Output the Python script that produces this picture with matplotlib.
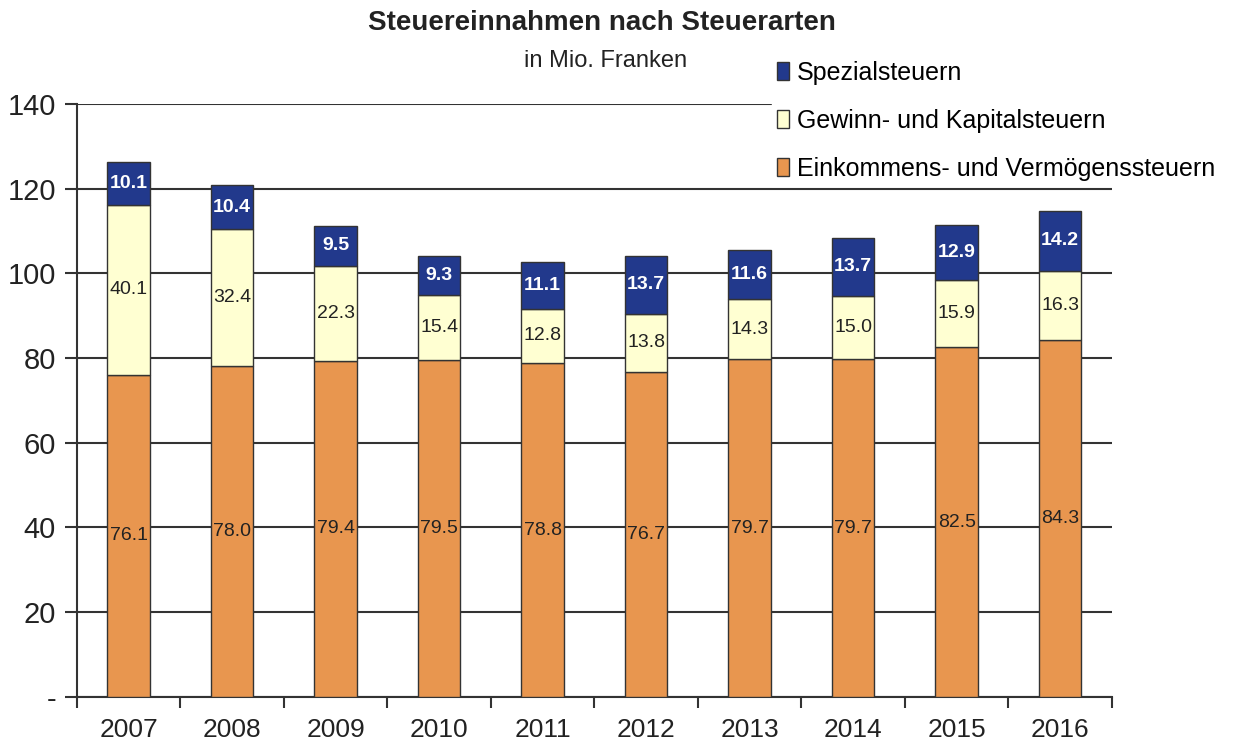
import numpy as np
import matplotlib.pyplot as plt
from matplotlib.patches import Patch

plt.rcParams['font.family'] = ['Liberation Sans Narrow', 'Liberation Sans', 'DejaVu Sans']

years = ['2007', '2008', '2009', '2010', '2011', '2012', '2013', '2014', '2015', '2016']
einkommen = [76.1, 78.0, 79.4, 79.5, 78.8, 76.7, 79.7, 79.7, 82.5, 84.3]
gewinn = [40.1, 32.4, 22.3, 15.4, 12.8, 13.8, 14.3, 15.0, 15.9, 16.3]
spezial = [10.1, 10.4, 9.5, 9.3, 11.1, 13.7, 11.6, 13.7, 12.9, 14.2]

c_eink = '#E8964F'
c_gew = '#FFFFD2'
c_spez = '#22398C'
c_line = '#333333'

fig = plt.figure(figsize=(12.41, 7.47), dpi=100)
ax = fig.add_axes([0.062, 0.067, 0.834, 0.794])

x = np.arange(len(years))
w = 0.41
e = np.array(einkommen)
g = np.array(gewinn)
s = np.array(spezial)

ax.set_axisbelow(True)
ax.yaxis.grid(True, color=c_line, linewidth=1.5)
ax.bar(x, e, w, color=c_eink, edgecolor=c_line, linewidth=1.0, zorder=3)
ax.bar(x, g, w, bottom=e, color=c_gew, edgecolor=c_line, linewidth=1.0, zorder=3)
ax.bar(x, s, w, bottom=e + g, color=c_spez, edgecolor=c_line, linewidth=1.0, zorder=3)

for i in range(len(years)):
    ax.text(x[i], e[i] / 2, '%.1f' % e[i], ha='center', va='center', fontsize=14, color='#222222', zorder=4)
    ax.text(x[i], e[i] + g[i] / 2, '%.1f' % g[i], ha='center', va='center', fontsize=14, color='#222222', zorder=4)
    ax.text(x[i], e[i] + g[i] + s[i] / 2, '%.1f' % s[i], ha='center', va='center', fontsize=14,
            color='white', fontweight='bold', zorder=4)

ax.set_xlim(-0.5, len(years) - 0.5)
ax.set_ylim(0, 140)
yt = np.arange(0, 141, 20)
ax.set_yticks(yt)
ax.set_yticklabels(['-'] + [str(v) for v in yt[1:]], fontsize=21, color='#222222')
ax.set_xticks(x)
ax.set_xticklabels(years, fontsize=19, color='#222222')
ax.set_xticks(np.arange(-0.5, len(years), 1), minor=True)
ax.tick_params(axis='x', which='major', length=0, pad=15)
ax.tick_params(axis='x', which='minor', length=8, width=1.5, color=c_line)
ax.tick_params(axis='y', length=9, width=1.5, color=c_line, pad=6)

for side in ['top', 'right']:
    ax.spines[side].set_visible(False)
for side in ['left', 'bottom']:
    ax.spines[side].set_color(c_line)
    ax.spines[side].set_linewidth(1.5)

handles = [Patch(facecolor=c_spez, edgecolor=c_line, label='Spezialsteuern'),
           Patch(facecolor=c_gew, edgecolor=c_line, label='Gewinn- und Kapitalsteuern'),
           Patch(facecolor=c_eink, edgecolor=c_line, label='Einkommens- und Vermögenssteuern')]
leg = fig.legend(handles=handles, loc='upper left', bbox_to_anchor=(0.622, 0.925),
                 fontsize=18, frameon=True, framealpha=1, edgecolor='white', fancybox=False,
                 handlelength=0.5, handleheight=0.75, handletextpad=0.3, labelspacing=0.95,
                 borderpad=0.2, borderaxespad=0)
leg.set_zorder(10)

fig.text(0.485, 0.969, 'Steuereinnahmen nach Steuerarten', ha='center', va='center',
         fontsize=20, fontweight='bold', color='#222222')
fig.text(0.488, 0.919, 'in Mio. Franken', ha='center', va='center', fontsize=17, color='#222222')

fig.savefig('out.png', dpi=100, facecolor='white')
